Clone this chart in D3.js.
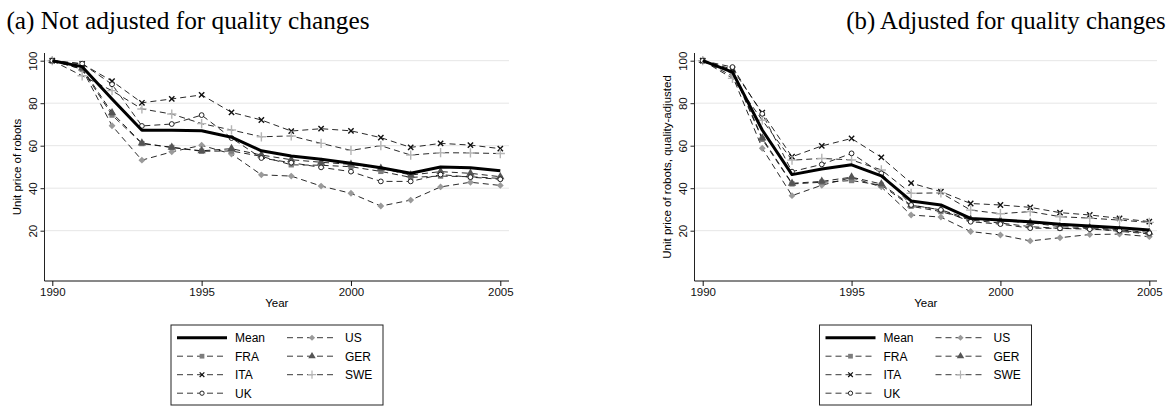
<!DOCTYPE html>
<html>
<head>
<meta charset="utf-8">
<script src="https://cdn.jsdelivr.net/npm/d3@7"></script>
<style>
  body { margin: 0; background: #fff; }
  svg { display: block; }
</style>
</head>
<body>
<svg id="chart" width="1173" height="410"></svg>
<script>
const years = d3.range(1990, 2006);
const yTicks = [20, 40, 60, 80, 100];
const xTicks = [1990, 1995, 2000, 2005];

// (a) not adjusted
const meanA = [100, 97.2, 82, 67.3, 67.3, 67, 64, 57.6, 55.2, 53.6, 51.7, 49.6, 47, 50, 49.6, 48.2];
const usA   = [100, 96, 69.4, 53.2, 57.1, 60.2, 56.1, 46.3, 45.7, 41, 37.6, 31.6, 34.4, 40.6, 42.8, 41.3];
const fraA  = [100, 96, 74.4, 61, 59.2, 57.4, 57.5, 55, 51, 50.8, 50.1, 47.9, 45.1, 45.7, 45.4, 44.6];
const gerA  = [100, 96.5, 75.5, 61.2, 59.2, 57.6, 58.6, 55.6, 53.4, 52.2, 51.2, 49.4, 46.2, 47.8, 47, 45.4];
const itaA  = [100, 98.5, 90.4, 80.2, 82, 83.9, 75.7, 72.1, 66.9, 68, 67, 63.8, 59.2, 61.1, 60.3, 58.6];
const sweA  = [100, 92.9, 85.9, 77.3, 74.9, 70.4, 67.4, 64.2, 64.6, 61.1, 57.8, 60, 55.6, 56.7, 56.6, 56.3];
const ukA   = [100, 98.6, 88.9, 69.3, 70.2, 74.4, 63.6, 54.2, 52, 49.8, 47.8, 43.2, 43.2, 46.4, 45.2, 44.2];

// (b) quality-adjusted
const meanB = [100, 94.6, 67.4, 46.4, 49, 51, 45.8, 34, 32.1, 25.8, 25, 24.2, 23, 22.2, 21.4, 20.3];
const usB   = [100, 92.8, 58.8, 36.5, 41.4, 45, 40.6, 27.4, 26.4, 19.6, 18, 15.2, 16.7, 18.2, 18.4, 17.2];
const fraB  = [100, 95, 63, 42, 42.8, 43.6, 41.4, 31.5, 29, 25, 23.6, 21.9, 21.1, 21.1, 19.7, 18.5];
const gerB  = [100, 95.4, 63.6, 42.3, 43.2, 45.2, 42, 32, 29.8, 25.4, 24.6, 23.8, 21.9, 21.5, 20.4, 19.2];
const itaB  = [100, 96, 75.5, 54.8, 59.9, 63.4, 54.5, 42.4, 38.4, 32.8, 32.1, 31, 28.5, 27.4, 25.8, 24.3];
const sweB  = [100, 91.7, 72, 53.2, 54, 53.3, 48.6, 37.6, 37.8, 29.7, 28, 29, 26.6, 25.9, 25, 23.9];
const ukB   = [100, 97, 75, 47.8, 51.2, 56.4, 47, 32.1, 29.8, 24.2, 23.1, 21.2, 21.1, 20.7, 20.1, 18.9];

const svg = d3.select("#chart");

const marks = {
  Mean: { sym: null },
  US:   { sym: d3.symbolDiamond2, fill: "#9a9a9a", size: 30 },
  FRA:  { sym: d3.symbolSquare, fill: "#7d7d7d", size: 28 },
  GER:  { sym: d3.symbolTriangle, fill: "#555", size: 30 },
  ITA:  { sym: d3.symbolTimes, stroke: "#111", size: 20 },
  SWE:  { sym: d3.symbolPlus, stroke: "#b5b5b5", size: 30 },
  UK:   { sym: d3.symbolCircle, stroke: "#222", size: 18, open: true }
};

function drawPanel(opt) {
  const x = d3.scaleLinear().domain([1990, 2005]).range([opt.x0, opt.x1]);
  const y = d3.scaleLinear().domain([0, 100]).range([273.2, 60.7]);
  const g = svg.append("g");

  // title
  svg.append("text")
    .attr("x", opt.titleX).attr("y", 29)
    .attr("text-anchor", "middle")
    .attr("font-family", "Liberation Serif, Times New Roman, serif")
    .attr("font-size", opt.titleSize)
    .text(opt.title);

  // grid
  g.selectAll("line.grid").data(yTicks).enter().append("line")
    .attr("x1", opt.axisX).attr("x2", opt.right)
    .attr("y1", d => y(d)).attr("y2", d => y(d))
    .attr("stroke", "#e6e6e6").attr("stroke-width", 1);

  // y axis
  const yAxis = g.append("g").attr("transform", `translate(${opt.axisX},0)`)
    .call(d3.axisLeft(y).tickValues(yTicks).tickSize(4).tickPadding(3));
  yAxis.select(".domain").remove();
  yAxis.append("line").attr("x1", 0).attr("x2", 0).attr("y1", 53).attr("y2", 281)
    .attr("stroke", "#222");
  yAxis.selectAll(".tick line").attr("stroke", "#222");
  yAxis.selectAll(".tick text")
    .attr("transform", "rotate(-90)")
    .attr("x", 0).attr("y", -8).attr("dy", 0)
    .attr("text-anchor", "middle")
    .attr("font-family", "Liberation Sans, Arial, sans-serif")
    .attr("font-size", 11.5).attr("fill", "#111");

  // x axis
  const xAxis = g.append("g").attr("transform", "translate(0,281)")
    .call(d3.axisBottom(x).tickValues(xTicks).tickFormat(d3.format("d")).tickSize(5).tickPadding(2));
  xAxis.select(".domain").remove();
  xAxis.append("line").attr("x1", opt.axisX).attr("x2", opt.right).attr("y1", 0).attr("y2", 0)
    .attr("stroke", "#111");
  xAxis.selectAll(".tick line").attr("stroke", "#111");
  xAxis.selectAll(".tick text")
    .attr("font-family", "Liberation Sans, Arial, sans-serif")
    .attr("font-size", 11.5).attr("fill", "#111");

  svg.append("text")
    .attr("x", (opt.axisX + opt.right) / 2).attr("y", 307)
    .attr("text-anchor", "middle")
    .attr("font-family", "Liberation Sans, Arial, sans-serif")
    .attr("font-size", 11.5).text("Year");

  svg.append("text")
    .attr("transform", `translate(${opt.axisX - 24},${y(50)}) rotate(-90)`)
    .attr("text-anchor", "middle")
    .attr("font-family", "Liberation Sans, Arial, sans-serif")
    .attr("font-size", 11.5).text(opt.ylabel);

  const line = d3.line().x((d, i) => x(years[i])).y(d => y(d));

  // dashed country series
  const order = ["US", "FRA", "GER", "ITA", "SWE", "UK"];
  order.forEach(k => {
    g.append("path").datum(opt.series[k])
      .attr("d", line).attr("fill", "none")
      .attr("stroke", "#111").attr("stroke-width", 0.9)
      .attr("stroke-dasharray", "6,4");
  });
  order.forEach(k => {
    const m = marks[k];
    g.selectAll(null).data(opt.series[k]).enter().append("path")
      .attr("transform", (d, i) => `translate(${x(years[i])},${y(d)})`)
      .attr("d", d3.symbol().type(m.sym).size(m.size))
      .attr("fill", m.open ? "#fff" : (m.fill || "none"))
      .attr("stroke", m.stroke || "none")
      .attr("stroke-width", m.open ? 1 : 1.4);
  });

  // mean
  g.append("path").datum(opt.series.Mean)
    .attr("d", line).attr("fill", "none")
    .attr("stroke", "#000").attr("stroke-width", 3)
    .attr("stroke-linejoin", "round");

  // legend
  const lg = svg.append("g").attr("transform", `translate(${opt.legX},325)`);
  lg.append("rect").attr("x", 0).attr("y", 0).attr("width", 212).attr("height", 80)
    .attr("fill", "#fff").attr("stroke", "#222").attr("stroke-width", 1);
  const items = [["Mean", 0, 0], ["US", 1, 0], ["FRA", 0, 1], ["GER", 1, 1], ["ITA", 0, 2], ["SWE", 1, 2], ["UK", 0, 3]];
  items.forEach(([k, c, r]) => {
    const lx = 6 + c * 110, ly = 12.7 + r * 18.5;
    const m = marks[k];
    if (k === "Mean") {
      lg.append("line").attr("x1", lx).attr("x2", lx + 50).attr("y1", ly).attr("y2", ly)
        .attr("stroke", "#000").attr("stroke-width", 3);
    } else {
      lg.append("line").attr("x1", lx).attr("x2", lx + 50).attr("y1", ly).attr("y2", ly)
        .attr("stroke", "#222").attr("stroke-width", 0.9).attr("stroke-dasharray", "6,4");
      lg.append("path").attr("transform", `translate(${lx + 25},${ly})`)
        .attr("d", d3.symbol().type(m.sym).size(m.size * 0.8))
        .attr("fill", m.open ? "#fff" : (m.fill || "none"))
        .attr("stroke", m.stroke || "none")
        .attr("stroke-width", m.open ? 1 : 1.2);
    }
    lg.append("text").attr("x", lx + 58).attr("y", ly + 4.5)
      .attr("font-family", "Liberation Sans, Arial, sans-serif")
      .attr("font-size", 12).text(k);
  });
}

drawPanel({
  title: "(a) Not adjusted for quality changes", titleX: 188, titleSize: 25.3,
  ylabel: "Unit price of robots",
  axisX: 44.5, x0: 52.3, x1: 500.3, right: 509, legX: 171,
  series: { Mean: meanA, US: usA, FRA: fraA, GER: gerA, ITA: itaA, SWE: sweA, UK: ukA }
});

drawPanel({
  title: "(b) Adjusted for quality changes", titleX: 1006, titleSize: 24.8,
  ylabel: "Unit price of robots, quality-adjusted",
  axisX: 694.5, x0: 702.7, x1: 1149.3, right: 1157, legX: 819.5,
  series: { Mean: meanB, US: usB, FRA: fraB, GER: gerB, ITA: itaB, SWE: sweB, UK: ukB }
});
</script>
</body>
</html>
